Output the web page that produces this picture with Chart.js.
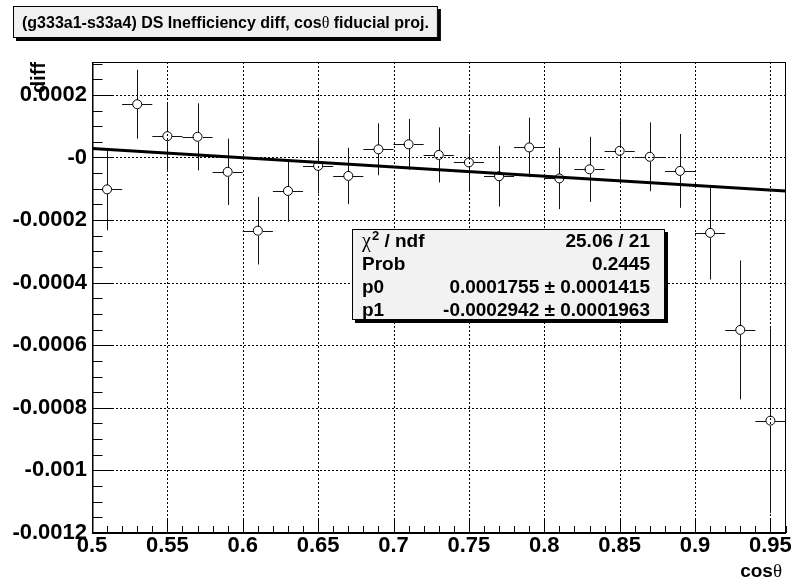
<!DOCTYPE html>
<html><head><meta charset="utf-8">
<script src="https://cdn.jsdelivr.net/npm/chart.js@4.4.0/dist/chart.umd.min.js"></script>
<style>html,body{margin:0;padding:0;background:#fff;}canvas{display:block;}</style>
</head><body>
<canvas id="c" width="791" height="583"></canvas>
<script>
// ---- data ----
const binCenters = [0.51,0.53,0.55,0.57,0.59,0.61,0.63,0.65,0.67,0.69,0.71,0.73,0.75,0.77,0.79,0.81,0.83,0.85,0.87,0.89,0.91,0.93,0.95];
const diffValues = [-0.000102,0.000170,0.000068,0.000066,-0.000046,-0.000234,-0.000107,-0.000027,-0.000059,0.000026,0.000042,0.000008,-0.000016,-0.000060,0.000032,-0.000067,-0.000038,0.000021,0.000002,-0.000043,-0.000241,-0.000551,-0.000841];
const diffErrors = [0.000131,0.000110,0.000108,0.000107,0.000106,0.000108,0.000098,0.000088,0.000090,0.000083,0.000081,0.000088,0.000089,0.000097,0.000095,0.000098,0.000104,0.000098,0.000110,0.000118,0.000149,0.000222,0.000295];
const binHalfWidth = 0.01;
const xTickValues = [0.5,0.55,0.6,0.65,0.7,0.75,0.8,0.85,0.9,0.95];
const xTickLabels = ["0.5","0.55","0.6","0.65","0.7","0.75","0.8","0.85","0.9","0.95"];
const yTickValues = [-0.0012,-0.001,-0.0008,-0.0006,-0.0004,-0.0002,0,0.0002];
const yTickLabels = ["-0.0012","-0.001","-0.0008","-0.0006","-0.0004","-0.0002","-0","0.0002"];
const xRange = [0.5, 0.96];
const yRange = [-0.0012, 0.000305];
const fitP0 = 0.0001755;
const fitP1 = -0.0002942;
const statLabels = ["χ² / ndf","Prob","p0","p1"];
const statValues = ["25.06 / 21","0.2445","0.0001755 ± 0.0001415","-0.0002942 ± 0.0001963"];
const titleParts = ["(g333a1-s33a4) DS Inefficiency diff, cos","θ"," fiducial proj."];

const SANS = "'Liberation Sans', Arial, Helvetica, sans-serif";
const SERIF = "'Liberation Serif', 'DejaVu Serif', serif";

function labelFor(v, vals, labs){
  for (let i=0;i<vals.length;i++){ if (Math.abs(vals[i]-v) < 1e-9) return labs[i]; }
  return '';
}

const rootPlugin = {
  id: 'rootStyle',
  beforeDatasetsDraw(chart){
    const {ctx, chartArea:a, scales:{x, y}} = chart;
    ctx.save();
    // dotted grid
    ctx.strokeStyle = '#000';
    ctx.lineWidth = 1;
    ctx.setLineDash([2,2]);
    ctx.beginPath();
    xTickValues.forEach(v => { const px = Math.round(x.getPixelForValue(v)) + 0.5; ctx.moveTo(px, a.top); ctx.lineTo(px, a.bottom); });
    yTickValues.forEach(v => { const py = Math.round(y.getPixelForValue(v)) + 0.5; ctx.moveTo(a.left, py); ctx.lineTo(a.right, py); });
    ctx.stroke();
    ctx.setLineDash([]);
    // error bars (with gap around marker)
    ctx.beginPath();
    ctx.rect(a.left, a.top, a.right - a.left, a.bottom - a.top);
    ctx.clip();
    const r = 4.5;
    ctx.strokeStyle = '#111';
    ctx.lineWidth = 1;
    ctx.beginPath();
    binCenters.forEach((cx, i) => {
      const px = Math.round(x.getPixelForValue(cx)) + 0.5;
      const py = Math.round(y.getPixelForValue(diffValues[i])) + 0.5;
      const yt = y.getPixelForValue(diffValues[i] + diffErrors[i]);
      const yb = y.getPixelForValue(diffValues[i] - diffErrors[i]);
      const xl = x.getPixelForValue(cx - binHalfWidth);
      const xr = x.getPixelForValue(cx + binHalfWidth);
      if (py - yt > r) { ctx.moveTo(px, yt); ctx.lineTo(px, py - r); }
      if (yb - py > r) { ctx.moveTo(px, py + r); ctx.lineTo(px, yb); }
      ctx.moveTo(xl, py); ctx.lineTo(px - r, py);
      ctx.moveTo(px + r, py); ctx.lineTo(xr, py);
    });
    ctx.stroke();
    ctx.restore();
  },
  afterDatasetsDraw(chart){
    const {ctx, chartArea:a, scales:{x, y}} = chart;
    ctx.save();
    ctx.strokeStyle = '#000';
    // frame
    ctx.lineWidth = 1;
    ctx.strokeRect(Math.round(a.left)+0.5, Math.round(a.top)+0.5, Math.round(a.right - a.left)-1, Math.round(a.bottom - a.top));
    // axis lines
    ctx.lineWidth = 2;
    ctx.beginPath();
    ctx.moveTo(a.left, Math.round(a.bottom)); ctx.lineTo(a.right, Math.round(a.bottom));
    ctx.stroke();
    ctx.lineWidth = 1.5;
    ctx.beginPath();
    ctx.moveTo(Math.round(a.left)+0.75, a.top); ctx.lineTo(Math.round(a.left)+0.75, a.bottom);
    ctx.stroke();
    // ticks
    ctx.lineWidth = 1;
    ctx.beginPath();
    const yMajLen = 21, yMinLen = 10.5, xMajLen = 14, xMinLen = 7;
    for (let k = 0; ; k++) {
      const v = yRange[0] + k * 0.00005;
      if (v > yRange[1] + 1e-12) break;
      const py = Math.round(y.getPixelForValue(v)) + 0.5;
      const len = (k % 4 === 0) ? yMajLen : yMinLen;
      ctx.moveTo(a.left, py); ctx.lineTo(a.left + len, py);
    }
    for (let k = 0; ; k++) {
      const v = xRange[0] + k * 0.01;
      if (v > xRange[1] + 1e-9) break;
      const px = Math.round(x.getPixelForValue(v)) + 0.5;
      const len = (k % 5 === 0) ? xMajLen : xMinLen;
      ctx.moveTo(px, a.bottom); ctx.lineTo(px, a.bottom - len);
    }
    ctx.stroke();
    ctx.restore();
  },
  afterDraw(chart){
    const {ctx, chartArea:a} = chart;
    ctx.save();
    ctx.fillStyle = '#000';
    ctx.textBaseline = 'alphabetic';
    // ---- title box ----
    const tFont = "bold 16px " + SANS, tFontG = "16px " + SERIF;
    ctx.font = tFont; const w0 = ctx.measureText(titleParts[0]).width, w2 = ctx.measureText(titleParts[2]).width;
    ctx.font = tFontG; const w1 = ctx.measureText(titleParts[1]).width;
    const tw = w0 + w1 + w2;
    const bx = 13, by = 6, bw = tw + 18, bh = 32;
    ctx.fillStyle = '#000';
    ctx.fillRect(bx + 3, by + 3, bw, bh);
    ctx.fillStyle = '#f0f0f0';
    ctx.fillRect(bx, by, bw, bh);
    ctx.strokeStyle = '#000'; ctx.lineWidth = 1;
    ctx.strokeRect(bx + 0.5, by + 0.5, bw - 1, bh - 1);
    ctx.fillStyle = '#000';
    let tx = bx + (bw - tw) / 2; const ty = by + bh/2 + 6;
    ctx.font = tFont; ctx.fillText(titleParts[0], tx, ty); tx += w0;
    ctx.font = tFontG; ctx.fillText(titleParts[1], tx, ty); tx += w1;
    ctx.font = tFont; ctx.fillText(titleParts[2], tx, ty);
    // ---- stats box ----
    const sx = 352, sy = 229, sw = 313, sh = 91;
    ctx.fillStyle = '#000';
    ctx.fillRect(sx + 3, sy + 3, sw, sh);
    ctx.fillStyle = '#f2f2f2';
    ctx.fillRect(sx, sy, sw, sh);
    ctx.strokeRect(sx + 0.5, sy + 0.5, sw - 1, sh - 1);
    ctx.fillStyle = '#000';
    const rowH = sh / statLabels.length;
    const sFont = "bold 19px " + SANS;
    statLabels.forEach((lab, i) => {
      const cy = sy + rowH * (i + 0.5) + 7;
      const lx = sx + 10;
      if (i === 0) {
        ctx.font = "20px " + SERIF;
        ctx.textAlign = 'left';
        ctx.fillText("χ", lx, cy);
        let xx = lx + ctx.measureText("χ").width + 1;
        ctx.font = "bold 13px " + SANS;
        ctx.fillText("2", xx, cy - 7);
        xx += ctx.measureText("2").width;
        ctx.font = sFont;
        ctx.fillText(" / ndf", xx, cy);
      } else {
        ctx.font = sFont; ctx.textAlign = 'left';
        ctx.fillText(lab, lx, cy);
      }
      ctx.font = sFont; ctx.textAlign = 'right';
      ctx.fillText(statValues[i], sx + sw - 15, cy);
    });
    // ---- x axis title: cosθ ----
    ctx.textAlign = 'left';
    const xr = 782, xy = 577;
    ctx.font = "19px " + SERIF; const thw = ctx.measureText("θ").width;
    ctx.fillText("θ", xr - thw, xy);
    ctx.font = "bold 19px " + SANS; const cw = ctx.measureText("cos").width;
    ctx.fillText("cos", xr - thw - cw, xy);
    // ---- y axis title: diff (rotated) ----
    ctx.save();
    ctx.translate(45, a.top);
    ctx.rotate(-Math.PI / 2);
    ctx.font = "bold 20px " + SANS;
    ctx.textAlign = 'right';
    ctx.textBaseline = 'alphabetic';
    ctx.fillText("diff", 0, 0);
    ctx.restore();
    ctx.restore();
  }
};

const tickFont = {family: SANS, size: 22, weight: 'bold'};

new Chart(document.getElementById('c'), {
  type: 'scatter',
  data: {
    datasets: [
      {
        label: 'diff',
        data: binCenters.map((cx, i) => ({x: cx, y: diffValues[i]})),
        pointRadius: 4.5, pointHoverRadius: 4.5, pointStyle: 'circle',
        pointBackgroundColor: 'rgba(0,0,0,0)', pointBorderColor: '#000', pointBorderWidth: 1,
        showLine: false, order: 1
      },
      {
        label: 'fit',
        data: xRange.map(xv => ({x: xv, y: fitP0 + fitP1 * xv})),
        showLine: true, borderColor: '#000', borderWidth: 3, pointRadius: 0, fill: false, order: 2
      }
    ]
  },
  options: {
    responsive: false, animation: false, events: [],
    layout: {padding: {top: 62, right: 3, bottom: 0, left: 0}},
    plugins: {legend: {display: false}, tooltip: {enabled: false}, title: {display: false}},
    scales: {
      x: {
        type: 'linear', min: xRange[0], max: xRange[1],
        grid: {display: false, drawTicks: false}, border: {display: false},
        ticks: {autoSkip: false, maxRotation: 0, minRotation: 0, padding: 0, color: '#000', font: tickFont,
                callback: (v) => labelFor(v, xTickValues, xTickLabels)},
        afterBuildTicks: (s) => { s.ticks = xTickValues.map(v => ({value: v})); },
        afterFit: (s) => { s.height = 50; s.paddingLeft = 0; s.paddingRight = 0; }
      },
      y: {
        type: 'linear', min: yRange[0], max: yRange[1],
        grid: {display: false, drawTicks: false}, border: {display: false},
        ticks: {autoSkip: false, padding: 5, color: '#000', font: tickFont,
                callback: (v) => labelFor(v, yTickValues, yTickLabels)},
        afterBuildTicks: (s) => { s.ticks = yTickValues.map(v => ({value: v})); },
        afterFit: (s) => { s.width = 92; s.paddingTop = 0; s.paddingBottom = 0; }
      }
    }
  },
  plugins: [rootPlugin]
});
</script>
</body></html>
